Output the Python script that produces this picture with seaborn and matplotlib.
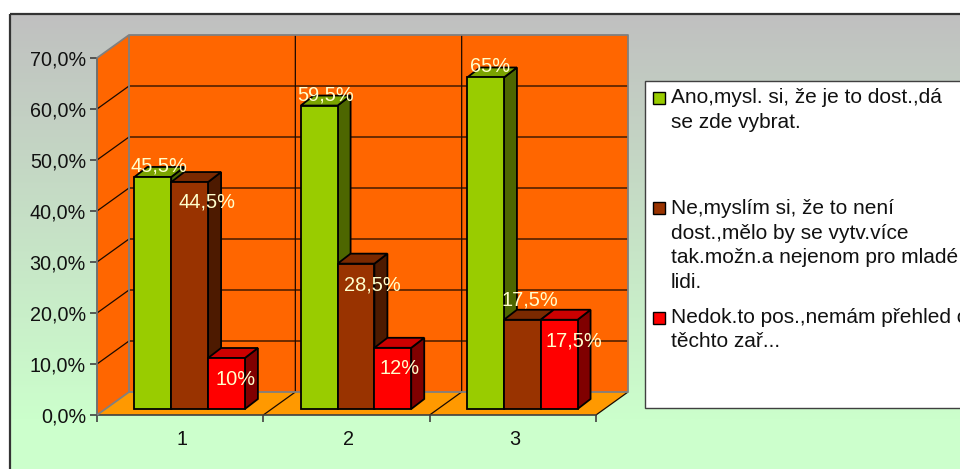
import numpy as np
import pandas as pd
import seaborn as sns
import matplotlib
matplotlib.use("Agg")
import matplotlib.pyplot as plt
from matplotlib.patches import Polygon, Rectangle
from matplotlib.transforms import IdentityTransform, Affine2D

categories = ["1", "2", "3"]
answers = [
    "Ano,mysl. si, že je to dost.,dá\nse zde vybrat.",
    "Ne,myslím si, že to není\ndost.,mělo by se vytv.více\ntak.možn.a nejenom pro mladé\nlidi.",
    "Nedok.to pos.,nemám přehled o\ntěchto zař...",
]
ano = [45.5, 59.5, 65]
ne = [44.5, 28.5, 17.5]
nedok = [10, 12, 17.5]
value_labels = ["45,5%", "59,5%", "65%", "44,5%", "28,5%", "17,5%", "10%", "12%", "17,5%"]
y_ticks = [0, 10, 20, 30, 40, 50, 60, 70]

front = ["#99CC00", "#993300", "#FF0000"]
side = ["#4D6600", "#4D1A00", "#800000"]
top = ["#7AA300", "#7A2900", "#CC0000"]

# label offsets from the top of each bar, pixels (placed by hand in the original)
label_dx = [6.5, 6, 4.5, 17, 16, 8, 9.5, 7, 15]
label_dy = [11, 11, 11, -20, -21, 20, -21, -21, -21]

df = pd.DataFrame({
    "kategorie": categories * 3,
    "odpoved": [a for a in answers for _ in categories],
    "hodnota": ano + ne + nedok,
})

sns.set_style("white")
plt.rcParams["font.family"] = ["Liberation Sans", "DejaVu Sans"]

W, H = 960, 469
fig = plt.figure(figsize=(W / 100, H / 100), dpi=100)

# background, frame and legend in image pixels
bg = fig.add_axes([0, 0, 1, 1])
grad = np.linspace(0, 1, 256).reshape(-1, 1, 1)
c1 = np.array([192, 192, 192]) / 255
c2 = np.array([204, 255, 204]) / 255
bg.imshow(c1 + (c2 - c1) * grad, extent=[10, 980, 420, 14], aspect="auto", zorder=0)
bg.add_patch(Rectangle((10, 420), 970, 60, fc="#CCFFCC", ec="none", zorder=0))
bg.add_patch(Rectangle((10, 14), 970, 480, fc="none", ec="#333333", lw=1.6, zorder=1))
bg.set_xlim(0, W)
bg.set_ylim(H, 0)
bg.axis("off")

bg.add_patch(Rectangle((645, 81), 340, 327, fc="white", ec="#404040", lw=1, zorder=2))
for i, (label, yc) in enumerate(zip(answers, [110, 245.5, 329.5])):
    first = [97, 207, 317][i]
    bg.add_patch(Rectangle((653, first - 4.5), 11.5, 11.5, fc=front[i], ec="black", lw=1, zorder=3))
    bg.text(671, yc, label, fontsize=15, color="#111111", va="center", ha="left",
            linespacing=1.375, zorder=3)

# plot
ax = fig.add_axes([97 / W, (H - 415) / H, 499 / W, 357 / H])
ax.patch.set_alpha(0)
sns.barplot(data=df, x="kategorie", y="hodnota", hue="odpoved", palette=front, saturation=1,
            width=0.664, gap=0, edgecolor="black", linewidth=1.3, legend=False, ax=ax, zorder=5)
ax.set_xlim(-0.5, 2.5)
ax.set_ylim(0, 70)
ax.set_xlabel("")
ax.set_ylabel("")
ax.set_yticks(y_ticks)
ax.set_yticklabels([f"{v},0%" for v in y_ticks], fontsize=14.2, color="#111111")
ax.set_xticks([-0.5, 0.5, 1.5, 2.5])
ax.set_xticklabels([])
ax.set_xticks([0.01, 1.01, 2.01], labels=categories, minor=True)
ax.tick_params(axis="x", which="minor", length=0, pad=11, labelsize=14.2, labelcolor="#111111")
ax.tick_params(axis="both", which="major", length=5, width=1.2, color="#404040", left=True, bottom=True)
ax.tick_params(axis="y", pad=3)
for s in ["top", "right"]:
    ax.spines[s].set_visible(False)
ax.spines["left"].set_color("#707070")
ax.spines["left"].set_linewidth(1.4)
ax.spines["bottom"].set_color("#404040")
ax.spines["bottom"].set_linewidth(1.2)

# walls and floor, worked out from the axes
px = IdentityTransform()
DX, DY = 32, 23
BAR_DX, BAR_DY = 9.5, 6
DEPTH_X, DEPTH_Y = 13, 10
fig.canvas.draw()
to_px = ax.transData.transform
x0, y0 = to_px((-0.5, 0))
x1, y1 = to_px((2.5, 70))

def poly(points, fc, z, ec="none", lw=0):
    ax.add_patch(Polygon(points, closed=True, fc=fc, ec=ec, lw=lw, transform=px, zorder=z, clip_on=False))

def line(xs, ys, color="black", lw=0.9, z=2):
    ax.plot(xs, ys, color=color, lw=lw, transform=px, zorder=z, clip_on=False, solid_capstyle="butt")

poly([(x0 + DX, y0 + DY), (x1 + DX, y0 + DY), (x1 + DX, y1 + DY), (x0 + DX, y1 + DY)], "#FF6600", 1)
poly([(x0, y0), (x0 + DX, y0 + DY), (x0 + DX, y1 + DY), (x0, y1)], "#FF6600", 1)
poly([(x0, y0), (x1, y0), (x1 + DX, y0 + DY), (x0 + DX, y0 + DY)], "#FF9900", 1)

for v in y_ticks[1:-1]:
    _, yy = to_px((0, v))
    line([x0, x0 + DX, x1 + DX], [yy, yy + DY, yy + DY], color="#1A0A00")
for b in [0.5, 1.5]:
    xx, _ = to_px((b, 0))
    line([xx, xx + DX, xx + DX], [y0, y0 + DY, y1 + DY], color="#1A0A00")
line([x1, x1 + DX], [y0, y0 + DY], color="#1A0A00")
line([x0, x0 + DX, x0 + DX], [y0, y0 + DY, y1 + DY], color="#808080", lw=1.3, z=3)
line([x0, x0 + DX, x1 + DX, x1 + DX, x0 + DX], [y1, y1 + DY, y1 + DY, y0 + DY, y0 + DY], color="#808080", lw=1.3, z=3)

# bars: move the front faces onto their plane and add the sides and tops
# seaborn adds them series by series, so take the series from that order
shift = Affine2D().translate(BAR_DX, BAR_DY)
order = [p for p in ax.patches if isinstance(p, Rectangle)]
indexed = sorted(enumerate(order), key=lambda t: t[1].get_x())
for z, (n, p) in enumerate(indexed):
    i = n // 3
    l, b = to_px((p.get_x(), 0))
    r, t = to_px((p.get_x() + p.get_width(), p.get_height()))
    l, r, b, t = l + BAR_DX, r + BAR_DX, b + BAR_DY, t + BAR_DY
    poly([(r, b), (r + DEPTH_X, b + DEPTH_Y), (r + DEPTH_X, t + DEPTH_Y), (r, t)], side[i], 4 + z * 0.01, "black", 1.3)
    poly([(l, t), (r, t), (r + DEPTH_X, t + DEPTH_Y), (l + DEPTH_X, t + DEPTH_Y)], top[i], 4 + z * 0.01, "black", 1.3)
    p.set_transform(ax.transData + shift)
    p.set_clip_on(False)

for n, p in enumerate(order):
    cx = p.get_x() + p.get_width() / 2
    xp, yp = to_px((cx, p.get_height()))
    ax.annotate(value_labels[n], (xp + BAR_DX, yp + BAR_DY), xycoords=px,
                xytext=(label_dx[n], label_dy[n]), textcoords="offset pixels",
                ha="center", va="center", fontsize=14.4, color="#FFFFCC", zorder=7)

fig.savefig("out.png", dpi=100)
